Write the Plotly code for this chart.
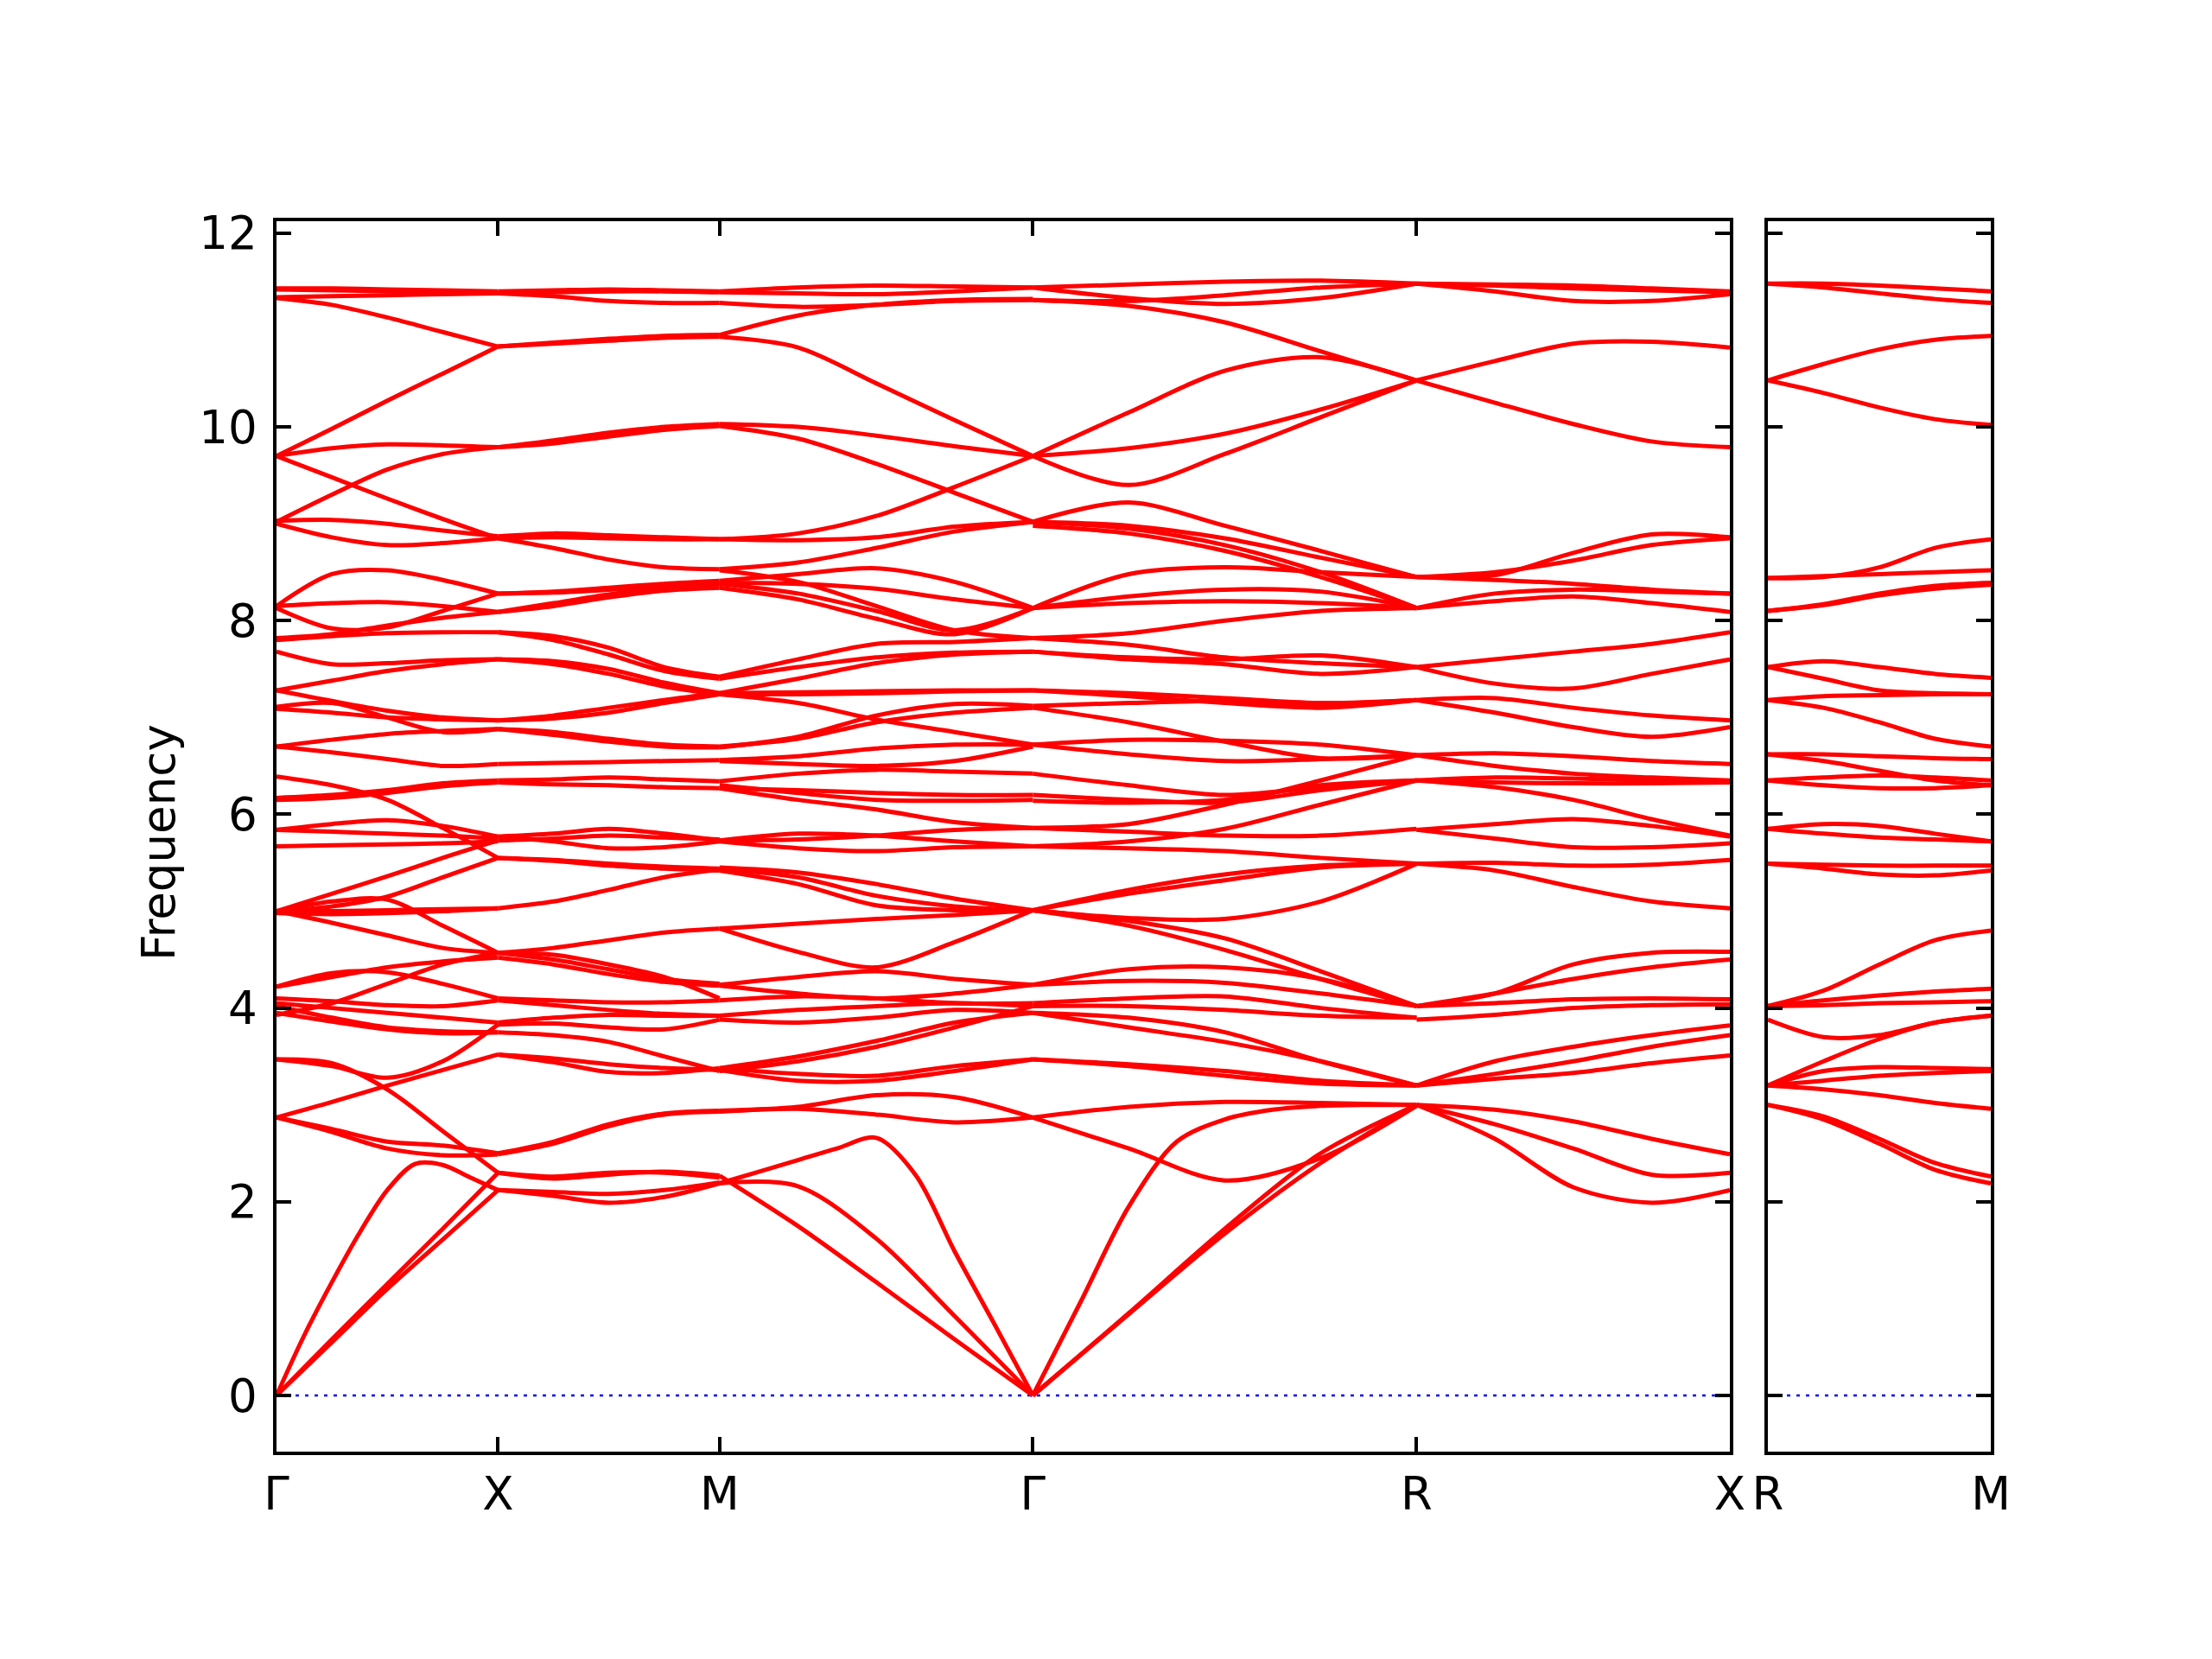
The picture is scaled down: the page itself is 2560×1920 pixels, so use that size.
import numpy as np
import plotly.graph_objects as go

# ---------------- path definition (k-distance along the path) ----------------
path_labels = ["Γ", "X", "M", "Γ", "R", "X"]
path_dist = [0.0, 0.5, 1.0, 1.70711, 2.57314, 3.28025]
side_labels = ["R", "M"]
side_dist = [0.0, 0.5]
y_ticks = [0, 2, 4, 6, 8, 10, 12]

# ---------------- band frequencies, sampled evenly along each segment ----------------
gx_bands = [
    [11.43, 11.43, 11.42, 11.41, 11.40],
    [11.42, 11.41, 11.40, 11.39, 11.38],
    [11.34, 11.35, 11.36, 11.37, 11.38],
    [11.33, 11.26, 11.13, 10.98, 10.83],
    [9.70, 9.98, 10.27, 10.55, 10.83],
    [9.70, 9.78, 9.82, 9.81, 9.79],
    [9.70, 9.48, 9.26, 9.05, 8.85],
    [9.02, 9.30, 9.56, 9.72, 9.79],
    [9.03, 9.04, 9.00, 8.93, 8.87],
    [9.00, 8.86, 8.78, 8.80, 8.85],
    [8.15, 8.48, 8.52, 8.42, 8.28],
    [8.15, 8.18, 8.19, 8.15, 8.09],
    [8.13, 7.92, 7.93, 8.10, 8.28],
    [7.82, 7.86, 7.95, 8.03, 8.09],
    [7.80, 7.84, 7.87, 7.88, 7.88],
    [7.68, 7.55, 7.56, 7.59, 7.60],
    [7.28, 7.38, 7.48, 7.55, 7.60],
    [7.28, 7.17, 7.07, 7.00, 6.97],
    [7.11, 7.15, 7.00, 6.85, 6.88],
    [7.09, 7.05, 7.00, 6.98, 6.97],
    [6.70, 6.77, 6.83, 6.86, 6.88],
    [6.70, 6.64, 6.57, 6.50, 6.52],
    [6.39, 6.30, 6.15, 5.86, 5.55],
    [6.17, 6.20, 6.25, 6.32, 6.35],
    [6.15, 6.17, 6.22, 6.29, 6.33],
    [5.84, 5.90, 5.94, 5.88, 5.77],
    [5.84, 5.82, 5.80, 5.78, 5.75],
    [5.67, 5.68, 5.69, 5.70, 5.72],
    [5.00, 5.18, 5.36, 5.55, 5.73],
    [5.00, 5.10, 5.12, 4.85, 4.57],
    [5.00, 5.05, 5.15, 5.35, 5.55],
    [5.00, 5.00, 5.01, 5.02, 5.03],
    [5.00, 4.88, 4.75, 4.62, 4.57],
    [4.98, 4.97, 4.98, 5.00, 5.03],
    [4.22, 4.32, 4.42, 4.48, 4.52],
    [4.22, 4.36, 4.37, 4.25, 4.10],
    [4.10, 4.07, 4.03, 4.02, 4.08],
    [4.05, 4.00, 3.95, 3.90, 3.85],
    [4.02, 3.90, 3.80, 3.76, 3.75],
    [3.95, 3.86, 3.78, 3.74, 3.75],
    [3.93, 4.05, 4.25, 4.45, 4.57],
    [3.47, 3.43, 3.16, 2.73, 2.30],
    [3.47, 3.40, 3.28, 3.45, 3.83],
    [2.87, 3.03, 3.20, 3.36, 3.52],
    [2.87, 2.75, 2.62, 2.58, 2.50],
    [2.87, 2.72, 2.55, 2.48, 2.49],
    [0.00, 0.62, 1.17, 1.68, 2.12, 2.39, 2.38, 2.25, 2.12],
    [0.00, 0.58, 1.15, 1.72, 2.30],
    [0.00, 0.55, 1.10, 1.61, 2.12],
]

xm_bands = [
    [11.40, 11.41, 11.42, 11.41, 11.40],
    [11.38, 11.35, 11.30, 11.28, 11.28],
    [11.38, 11.39, 11.40, 11.40, 11.39],
    [10.83, 10.87, 10.91, 10.94, 10.95],
    [10.83, 10.86, 10.89, 10.92, 10.93],
    [9.79, 9.86, 9.94, 10.00, 10.03],
    [9.79, 9.83, 9.90, 9.97, 10.01],
    [8.87, 8.90, 8.88, 8.86, 8.84],
    [8.85, 8.75, 8.63, 8.55, 8.53],
    [8.85, 8.86, 8.85, 8.84, 8.84],
    [8.28, 8.30, 8.34, 8.38, 8.41],
    [8.28, 8.29, 8.32, 8.36, 8.39],
    [8.09, 8.18, 8.27, 8.34, 8.38],
    [8.09, 8.15, 8.24, 8.31, 8.34],
    [7.88, 7.84, 7.72, 7.52, 7.42],
    [7.88, 7.80, 7.65, 7.48, 7.40],
    [7.60, 7.55, 7.45, 7.32, 7.24],
    [7.60, 7.58, 7.50, 7.36, 7.25],
    [6.97, 7.02, 7.10, 7.18, 7.25],
    [6.97, 6.99, 7.05, 7.15, 7.24],
    [6.88, 6.82, 6.75, 6.70, 6.69],
    [6.88, 6.85, 6.78, 6.72, 6.70],
    [6.52, 6.53, 6.54, 6.55, 6.56],
    [6.35, 6.36, 6.38, 6.36, 6.34],
    [6.33, 6.31, 6.30, 6.28, 6.27],
    [5.77, 5.72, 5.65, 5.66, 5.72],
    [5.77, 5.80, 5.85, 5.80, 5.73],
    [5.73, 5.75, 5.78, 5.76, 5.74],
    [5.55, 5.53, 5.49, 5.46, 5.44],
    [5.55, 5.52, 5.47, 5.44, 5.42],
    [5.03, 5.10, 5.22, 5.35, 5.43],
    [4.57, 4.62, 4.70, 4.78, 4.82],
    [4.57, 4.50, 4.40, 4.30, 4.25],
    [4.57, 4.55, 4.45, 4.32, 4.10],
    [4.52, 4.45, 4.35, 4.27, 4.23],
    [4.10, 4.08, 4.06, 4.06, 4.08],
    [4.08, 4.03, 3.98, 3.94, 3.92],
    [3.85, 3.90, 3.93, 3.92, 3.92],
    [3.83, 3.84, 3.80, 3.78, 3.88],
    [3.75, 3.72, 3.65, 3.50, 3.35],
    [3.52, 3.44, 3.34, 3.33, 3.38],
    [3.52, 3.48, 3.42, 3.38, 3.36],
    [2.50, 2.62, 2.80, 2.91, 2.94],
    [2.49, 2.60, 2.78, 2.90, 2.93],
    [2.30, 2.24, 2.28, 2.31, 2.27],
    [2.30, 2.26, 2.30, 2.30, 2.25],
    [2.12, 2.06, 1.99, 2.05, 2.19],
    [2.12, 2.10, 2.08, 2.12, 2.20],
]

mg_bands = [
    [11.40, 11.44, 11.46, 11.45, 11.44],
    [11.39, 11.38, 11.37, 11.40, 11.44],
    [11.28, 11.24, 11.26, 11.30, 11.31],
    [10.95, 11.15, 11.26, 11.31, 11.32],
    [10.93, 10.82, 10.45, 10.07, 9.70],
    [10.03, 10.00, 9.91, 9.80, 9.70],
    [10.01, 9.88, 9.62, 9.32, 9.02],
    [8.84, 8.90, 9.08, 9.38, 9.70],
    [8.84, 8.83, 8.86, 8.97, 9.02],
    [8.53, 8.60, 8.75, 8.92, 9.02],
    [8.41, 8.48, 8.54, 8.40, 8.13],
    [8.39, 8.38, 8.33, 8.22, 8.13],
    [8.38, 8.28, 8.10, 7.90, 8.13],
    [8.34, 8.22, 8.02, 7.86, 8.13],
    [8.52, 8.40, 8.15, 7.90, 7.82],
    [7.42, 7.60, 7.76, 7.78, 7.82],
    [7.40, 7.52, 7.62, 7.67, 7.68],
    [7.25, 7.40, 7.56, 7.65, 7.68],
    [7.25, 7.26, 7.27, 7.28, 7.28],
    [7.24, 7.24, 7.25, 7.27, 7.28],
    [7.24, 7.15, 6.98, 6.85, 6.72],
    [6.69, 6.80, 7.02, 7.14, 7.12],
    [6.70, 6.78, 6.95, 7.05, 7.10],
    [6.56, 6.60, 6.68, 6.72, 6.72],
    [6.55, 6.52, 6.50, 6.55, 6.70],
    [6.34, 6.42, 6.46, 6.44, 6.42],
    [6.27, 6.25, 6.22, 6.20, 6.20],
    [6.30, 6.22, 6.15, 6.14, 6.15],
    [6.27, 6.15, 6.05, 5.92, 5.86],
    [5.73, 5.80, 5.78, 5.72, 5.67],
    [5.73, 5.74, 5.78, 5.84, 5.86],
    [5.72, 5.65, 5.62, 5.66, 5.67],
    [5.45, 5.40, 5.28, 5.13, 5.01],
    [5.44, 5.35, 5.16, 5.05, 5.01],
    [5.42, 5.28, 5.06, 5.01, 5.01],
    [4.82, 4.87, 4.92, 4.96, 5.01],
    [4.82, 4.58, 4.42, 4.68, 5.01],
    [4.24, 4.32, 4.38, 4.30, 4.24],
    [4.23, 4.15, 4.10, 4.15, 4.24],
    [4.08, 4.12, 4.10, 4.05, 4.05],
    [3.92, 3.98, 4.02, 4.05, 4.02],
    [3.88, 3.85, 3.90, 3.98, 3.95],
    [3.38, 3.50, 3.66, 3.85, 3.95],
    [3.35, 3.45, 3.60, 3.80, 4.02],
    [3.36, 3.25, 3.25, 3.35, 3.47],
    [3.38, 3.32, 3.30, 3.40, 3.47],
    [2.94, 2.98, 3.10, 3.08, 2.87],
    [2.93, 2.96, 2.90, 2.82, 2.87],
    [2.19, 2.31, 2.43, 2.55, 2.66, 2.28, 1.49, 0.75, 0.00],
    [2.19, 2.16, 1.62, 0.82, 0.00],
    [2.27, 1.75, 1.17, 0.58, 0.00],
]

gr_bands = [
    [11.44, 11.47, 11.50, 11.51, 11.48],
    [11.44, 11.33, 11.27, 11.33, 11.48],
    [11.31, 11.30, 11.36, 11.44, 11.48],
    [11.31, 11.25, 11.08, 10.78, 10.48],
    [9.70, 10.15, 10.58, 10.72, 10.48],
    [9.70, 9.40, 9.72, 10.10, 10.48],
    [9.70, 9.78, 9.93, 10.18, 10.48],
    [9.02, 9.22, 8.98, 8.72, 8.45],
    [9.02, 8.98, 8.85, 8.65, 8.45],
    [9.02, 8.95, 8.78, 8.50, 8.13],
    [8.98, 8.90, 8.72, 8.45, 8.13],
    [8.13, 8.48, 8.55, 8.50, 8.45],
    [8.13, 8.25, 8.32, 8.30, 8.13],
    [8.13, 8.18, 8.20, 8.18, 8.13],
    [7.82, 7.87, 8.00, 8.10, 8.13],
    [7.68, 7.62, 7.60, 7.64, 7.52],
    [7.68, 7.60, 7.55, 7.45, 7.52],
    [7.82, 7.75, 7.62, 7.56, 7.52],
    [7.28, 7.22, 7.15, 7.10, 7.18],
    [7.28, 7.25, 7.20, 7.15, 7.18],
    [7.10, 6.95, 6.75, 6.58, 6.61],
    [7.12, 7.15, 7.17, 7.14, 7.18],
    [6.72, 6.77, 6.76, 6.72, 6.61],
    [6.72, 6.62, 6.55, 6.57, 6.61],
    [6.42, 6.30, 6.20, 6.28, 6.35],
    [6.20, 6.15, 6.12, 6.25, 6.35],
    [6.14, 6.12, 6.15, 6.30, 6.35],
    [5.86, 5.90, 6.10, 6.35, 6.61],
    [5.86, 5.82, 5.78, 5.78, 5.85],
    [5.67, 5.72, 5.85, 6.10, 6.35],
    [5.67, 5.65, 5.62, 5.55, 5.49],
    [5.01, 5.18, 5.32, 5.45, 5.49],
    [5.01, 5.22, 5.38, 5.47, 5.49],
    [5.01, 4.93, 4.92, 5.10, 5.49],
    [5.01, 4.90, 4.72, 4.38, 4.02],
    [5.01, 4.85, 4.60, 4.30, 4.02],
    [4.24, 4.40, 4.42, 4.30, 4.02],
    [4.24, 4.28, 4.26, 4.15, 4.02],
    [4.05, 4.10, 4.12, 4.00, 3.90],
    [4.02, 4.02, 3.98, 3.92, 3.90],
    [3.95, 3.80, 3.65, 3.45, 3.20],
    [3.95, 3.90, 3.75, 3.45, 3.20],
    [3.47, 3.40, 3.30, 3.22, 3.20],
    [3.47, 3.42, 3.35, 3.25, 3.20],
    [2.87, 2.98, 3.03, 3.02, 3.00],
    [2.87, 2.55, 2.22, 2.45, 2.99],
    [0.00, 0.97, 1.95, 2.62, 2.85, 2.95, 2.99, 3.00, 3.00],
    [0.00, 0.84, 1.67, 2.40, 3.00],
    [0.00, 0.85, 1.72, 2.50, 3.00],
]

rx_bands = [
    [11.48, 11.47, 11.46, 11.43, 11.40],
    [11.48, 11.40, 11.30, 11.30, 11.37],
    [11.48, 11.46, 11.43, 11.41, 11.39],
    [10.48, 10.68, 10.86, 10.88, 10.82],
    [10.48, 10.25, 10.03, 9.85, 9.79],
    [8.45, 8.47, 8.70, 8.89, 8.86],
    [8.45, 8.50, 8.62, 8.78, 8.85],
    [8.45, 8.42, 8.38, 8.32, 8.28],
    [8.13, 8.28, 8.32, 8.30, 8.28],
    [8.13, 8.20, 8.25, 8.18, 8.09],
    [7.52, 7.60, 7.68, 7.76, 7.88],
    [7.52, 7.35, 7.30, 7.45, 7.60],
    [7.18, 7.20, 7.10, 7.02, 6.97],
    [7.18, 7.05, 6.90, 6.80, 6.90],
    [6.61, 6.63, 6.60, 6.55, 6.52],
    [6.61, 6.50, 6.42, 6.38, 6.35],
    [6.35, 6.38, 6.37, 6.35, 6.34],
    [6.35, 6.33, 6.32, 6.32, 6.33],
    [6.35, 6.28, 6.15, 5.95, 5.78],
    [5.84, 5.90, 5.95, 5.88, 5.77],
    [5.84, 5.75, 5.66, 5.66, 5.70],
    [5.49, 5.50, 5.47, 5.48, 5.53],
    [5.49, 5.42, 5.25, 5.10, 5.03],
    [4.02, 4.15, 4.45, 4.57, 4.58],
    [4.02, 4.15, 4.30, 4.42, 4.50],
    [4.02, 4.05, 4.09, 4.10, 4.09],
    [3.88, 3.93, 4.00, 4.03, 4.04],
    [3.20, 3.45, 3.60, 3.72, 3.82],
    [3.20, 3.32, 3.45, 3.60, 3.72],
    [3.20, 3.27, 3.33, 3.43, 3.51],
    [3.00, 2.95, 2.83, 2.65, 2.49],
    [3.00, 2.80, 2.55, 2.28, 2.30],
    [3.00, 2.65, 2.15, 1.99, 2.12],
]

rm_bands = [
    [11.48, 11.48, 11.46, 11.43, 11.40],
    [11.48, 11.44, 11.38, 11.32, 11.28],
    [10.48, 10.65, 10.80, 10.90, 10.94],
    [10.48, 10.35, 10.20, 10.08, 10.02],
    [8.44, 8.45, 8.55, 8.75, 8.84],
    [8.44, 8.46, 8.48, 8.50, 8.52],
    [8.10, 8.17, 8.28, 8.36, 8.39],
    [8.10, 8.16, 8.26, 8.33, 8.37],
    [7.52, 7.58, 7.52, 7.45, 7.41],
    [7.52, 7.40, 7.28, 7.25, 7.24],
    [7.18, 7.22, 7.23, 7.24, 7.24],
    [7.18, 7.10, 6.95, 6.78, 6.70],
    [6.62, 6.62, 6.60, 6.58, 6.57],
    [6.62, 6.55, 6.45, 6.35, 6.30],
    [6.35, 6.38, 6.40, 6.38, 6.35],
    [6.35, 6.30, 6.27, 6.27, 6.30],
    [5.85, 5.90, 5.88, 5.80, 5.72],
    [5.85, 5.80, 5.76, 5.74, 5.72],
    [5.49, 5.48, 5.47, 5.47, 5.47],
    [5.49, 5.44, 5.38, 5.37, 5.42],
    [4.02, 4.18, 4.45, 4.70, 4.80],
    [4.02, 4.08, 4.13, 4.17, 4.20],
    [4.02, 4.03, 4.05, 4.06, 4.07],
    [3.88, 3.70, 3.72, 3.85, 3.92],
    [3.20, 3.45, 3.68, 3.85, 3.92],
    [3.20, 3.35, 3.39, 3.38, 3.37],
    [3.20, 3.25, 3.30, 3.33, 3.35],
    [3.20, 3.16, 3.10, 3.02, 2.96],
    [3.00, 2.88, 2.65, 2.40, 2.26],
    [3.00, 2.85, 2.60, 2.33, 2.19],
]

main_segments = [(0, 1, gx_bands), (1, 2, xm_bands), (2, 3, mg_bands),
                 (3, 4, gr_bands), (4, 5, rx_bands)]
side_segments = [(0, 1, rm_bands)]


def build(segments, dist):
    xs, ys = [], []
    for i0, i1, bands in segments:
        k0, k1 = dist[i0], dist[i1]
        for b in bands:
            t = np.linspace(0.0, 1.0, len(b))
            xs += list(k0 + t * (k1 - k0)) + [None]
            ys += list(b) + [None]
    return xs, ys


BAND_COLOR = "#ff0000"
BAND_WIDTH = 5.0
FONT = "DejaVu Sans"

fig = go.Figure()

# zero-frequency dotted guide lines
fig.add_trace(go.Scatter(x=[path_dist[0], path_dist[-1]], y=[0, 0], mode="lines",
                         line=dict(color="#0000ff", width=2.6, dash="4px,7px"),
                         xaxis="x", yaxis="y", hoverinfo="skip"))
fig.add_trace(go.Scatter(x=[side_dist[0], side_dist[-1]], y=[0, 0], mode="lines",
                         line=dict(color="#0000ff", width=2.6, dash="4px,7px"),
                         xaxis="x2", yaxis="y2", hoverinfo="skip"))

mx, my = build(main_segments, path_dist)
fig.add_trace(go.Scatter(x=mx, y=my, mode="lines", connectgaps=False,
                         line=dict(color=BAND_COLOR, width=BAND_WIDTH, shape="spline", smoothing=0.9),
                         xaxis="x", yaxis="y", hoverinfo="skip"))
sx, sy = build(side_segments, side_dist)
fig.add_trace(go.Scatter(x=sx, y=sy, mode="lines", connectgaps=False,
                         line=dict(color=BAND_COLOR, width=BAND_WIDTH, shape="spline", smoothing=0.9),
                         xaxis="x2", yaxis="y2", hoverinfo="skip"))

W, H = 2560, 1920
OFF = 8  # page body margin compensation
y_dom = [1 - (1680 - OFF) / H, 1 - (256 - OFF) / H]
y_rng = [-0.58, 12.124]

axis_common = dict(showline=True, linecolor="black", linewidth=3.5, mirror="ticks",
                   ticks="inside", ticklen=17, tickwidth=3.5, tickcolor="black",
                   showgrid=False, zeroline=False, automargin=False,
                   tickfont=dict(family=FONT, size=53, color="black"))

fig.update_layout(
    template="none",
    width=W, height=H,
    margin=dict(l=0, r=0, t=0, b=0, pad=0),
    paper_bgcolor="white", plot_bgcolor="white",
    showlegend=False,
    font=dict(family=FONT, size=53, color="black"),
    xaxis=dict(domain=[(320 - OFF) / W, (2002 - OFF) / W], range=[path_dist[0], path_dist[-1]],
               tickmode="array", tickvals=path_dist, ticktext=path_labels,
               anchor="y", **axis_common),
    yaxis=dict(domain=y_dom, range=y_rng, tickmode="array", tickvals=y_ticks,
               ticktext=[str(v) for v in y_ticks], anchor="x", ticklabelstandoff=8,
               **axis_common),
    xaxis2=dict(domain=[(2046 - OFF) / W, (2304 - OFF) / W], range=[side_dist[0], side_dist[-1]],
                tickmode="array", tickvals=side_dist, ticktext=side_labels,
                anchor="y2", **axis_common),
    yaxis2=dict(domain=y_dom, range=y_rng, tickmode="array", tickvals=y_ticks,
                showticklabels=False, anchor="x2", **axis_common),
    annotations=[dict(text="Frequency", x=(183 - OFF) / W, y=1 - (975 - OFF) / H,
                      xref="paper", yref="paper",
                      xanchor="center", yanchor="middle", textangle=-90, showarrow=False,
                      font=dict(family=FONT, size=53, color="black"))],
)

fig.write_html("out.html")
